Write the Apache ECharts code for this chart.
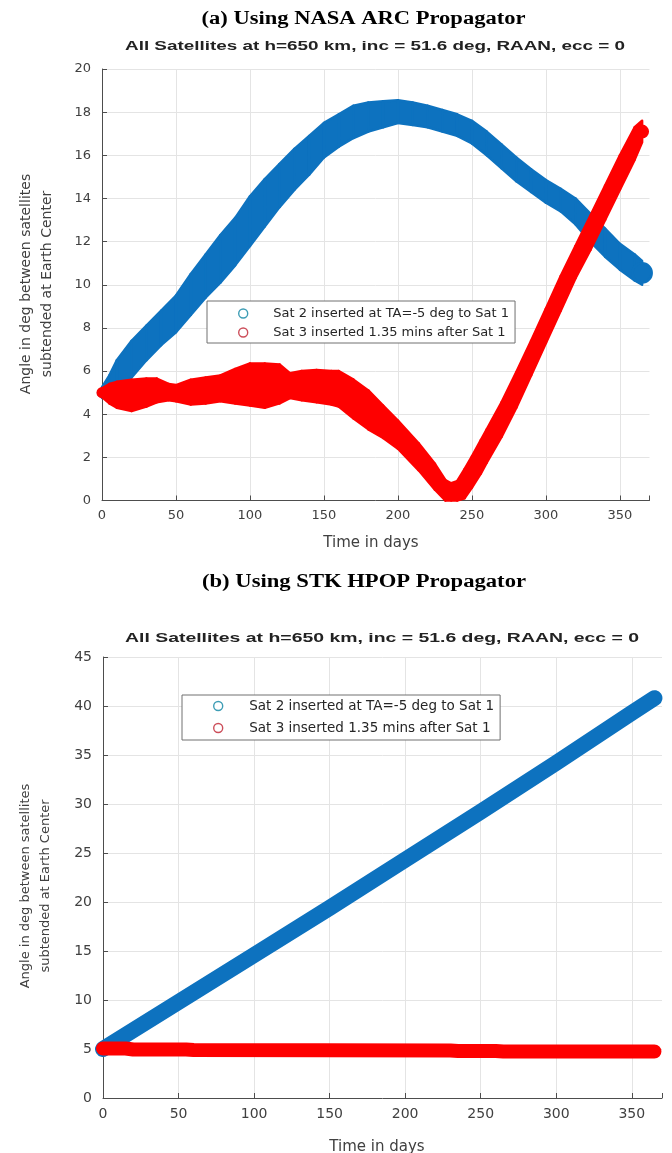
<!DOCTYPE html>
<html><head><meta charset="utf-8">
<script src="https://cdn.jsdelivr.net/npm/echarts@6/dist/echarts.min.js"></script>
<style>html,body{margin:0;padding:0;background:#fff}#c{width:672px;height:1153px}</style>
</head><body><div id="c"></div>
<script>
// ---------- data ----------
const legendNames = ['Sat 2 inserted at TA=-5 deg to Sat 1', 'Sat 3 inserted 1.35 mins after Sat 1'];
const xTicks = [0, 50, 100, 150, 200, 250, 300, 350];
const yTicksA = [0, 2, 4, 6, 8, 10, 12, 14, 16, 18, 20];
const yTicksB = [0, 5, 10, 15, 20, 25, 30, 35, 40, 45];

// (a) NASA ARC: Sat 2 band (lower / upper envelope of the scatter)
const daysA2 = [0, 5, 10, 20, 30, 40, 50, 60, 70, 80, 90, 100, 110, 120, 130, 140, 150, 160, 170, 180, 190, 200, 210, 220, 230, 240, 250, 260, 270, 280, 290, 300, 310, 320, 330, 340, 350, 360, 365];
const sat2LowA = [4.75, 4.9, 5.2, 5.7, 6.5, 7.2, 7.8, 8.6, 9.4, 10.1, 10.9, 11.8, 12.7, 13.6, 14.4, 15.1, 15.9, 16.4, 16.8, 17.1, 17.3, 17.5, 17.4, 17.3, 17.1, 16.9, 16.55, 16.0, 15.4, 14.8, 14.3, 13.8, 13.4, 12.8, 12.0, 11.3, 10.7, 10.2, 10.0];
const sat2HighA = [5.25, 5.8, 6.5, 7.4, 8.1, 8.8, 9.5, 10.5, 11.4, 12.3, 13.1, 14.1, 14.9, 15.6, 16.3, 16.9, 17.5, 17.9, 18.3, 18.45, 18.5, 18.55, 18.45, 18.3, 18.1, 17.9, 17.6, 17.1, 16.5, 15.9, 15.35, 14.85, 14.45, 14.0, 13.3, 12.6, 11.9, 11.4, 11.1];

// (a) NASA ARC: Sat 3 band
const daysA3 = [0, 5, 10, 20, 30, 37, 45, 50, 60, 70, 80, 90, 100, 110, 120, 127, 135, 145, 155, 160, 170, 180, 190, 200, 214, 225, 232, 236, 240, 245, 250, 256, 260, 270, 280, 290, 300, 310, 320, 330, 340, 350, 360, 365];
const sat3LowA = [4.8, 4.5, 4.3, 4.15, 4.35, 4.55, 4.65, 4.6, 4.45, 4.5, 4.6, 4.5, 4.4, 4.3, 4.5, 4.75, 4.65, 4.55, 4.45, 4.35, 3.8, 3.3, 2.9, 2.4, 1.4, 0.5, 0.0, 0.0, 0.0, 0.1, 0.6, 1.25, 1.75, 2.95, 4.3, 5.8, 7.3, 8.8, 10.3, 11.6, 13.0, 14.4, 15.8, 16.6];
const sat3HighA = [5.2, 5.4, 5.5, 5.6, 5.65, 5.65, 5.4, 5.35, 5.6, 5.7, 5.8, 6.1, 6.35, 6.35, 6.3, 5.9, 6.0, 6.05, 6.0, 6.0, 5.6, 5.1, 4.4, 3.7, 2.65, 1.7, 0.95, 0.8, 0.9, 1.45, 2.05, 2.8, 3.3, 4.55, 5.95, 7.4, 8.9, 10.4, 11.8, 13.2, 14.6, 16.0, 17.3, 17.6];

// (b) STK HPOP
const daysB2 = [0, 50, 100, 150, 200, 250, 300, 350, 365];
const sat2B = [5.0, 9.8, 14.6, 19.4, 24.3, 29.2, 34.2, 39.3, 40.8];
const daysB3 = [0, 15, 20, 55, 60, 230, 235, 260, 265, 365];
const sat3B = [5.05, 5.05, 4.95, 4.95, 4.9, 4.85, 4.8, 4.8, 4.75, 4.75];

// ---------- styling ----------
const BLUE = '#0d72bf', RED = '#fe0000';
const AXIS = '#4d4d4d', LABEL = '#404040', GRID = '#e4e4e4';
const SANS = '"DejaVu Sans"';

const mctx = document.createElement('canvas').getContext('2d');
function textW(t, font) { mctx.font = font; return mctx.measureText(t).width; }

// band between lower and upper envelope, drawn segment by segment through the axes
function bandSeries(name, days, low, high, color, gi) {
  const n = days.length;
  return { type: 'custom', name: name, xAxisIndex: gi, yAxisIndex: gi, silent: true, clip: false,
    data: days.map((d, i) => [d, low[i], high[i]]),
    encode: { x: 0, y: [1, 2] },
    itemStyle: { color: color },
    renderItem: function (params, api) {
      const k = params.dataIndexInside;
      const st = { fill: color, stroke: color, lineWidth: 2.5, lineJoin: 'round' };
      const children = [];
      const mid = function (j) {
        const a = api.coord([api.value(0, j), api.value(1, j)]);
        const b = api.coord([api.value(0, j), api.value(2, j)]);
        return [a[0], (a[1] + b[1]) / 2, Math.abs(a[1] - b[1]) / 2];
      };
      if (k === 0 || k === n - 1) {
        const m = mid(k), o = mid(k === 0 ? 1 : n - 2);
        const dx = Math.abs(o[0] - m[0]) || 1, dy = o[1] - m[1];
        const cosA = dx / Math.sqrt(dx * dx + dy * dy);
        children.push({ type: 'circle', shape: { cx: m[0], cy: m[1], r: Math.max(m[2] * cosA, 4) }, style: st });
      }
      if (k < n - 1) {
        const pts = [
          api.coord([api.value(0, k), api.value(1, k)]),
          api.coord([api.value(0, k + 1), api.value(1, k + 1)]),
          api.coord([api.value(0, k + 1), api.value(2, k + 1)]),
          api.coord([api.value(0, k), api.value(2, k)])
        ];
        children.push({ type: 'polygon', shape: { points: pts }, style: st });
      }
      return { type: 'group', children: children };
    } };
}
function thickLine(name, days, vals, color, width, gi) {
  return { type: 'line', name: name, xAxisIndex: gi, yAxisIndex: gi,
    data: days.map((d, i) => [d, vals[i]]), symbol: 'none', silent: true,
    itemStyle: { color: color },
    lineStyle: { color: color, width: width, cap: 'round', join: 'round' } };
}
function xAxis(gi, fs) {
  return { gridIndex: gi, type: 'value', min: 0, max: 370, interval: 50,
    axisLine: { show: true, onZero: false, lineStyle: { color: AXIS, width: 1 } },
    axisTick: { show: true, inside: true, length: 5, lineStyle: { color: AXIS } },
    axisLabel: { customValues: xTicks, color: LABEL, fontFamily: SANS, fontSize: fs, margin: 9 },
    splitLine: { show: true, showMaxLine: false, showMinLine: false, lineStyle: { color: GRID, width: 1 } } };
}
function yAxis(gi, max, step, ticks, fs) {
  return { gridIndex: gi, type: 'value', min: 0, max: max, interval: step,
    axisLine: { show: true, onZero: false, lineStyle: { color: AXIS, width: 1 } },
    axisTick: { show: true, inside: true, length: 5, lineStyle: { color: AXIS } },
    axisLabel: { customValues: ticks, color: LABEL, fontFamily: SANS, fontSize: fs, margin: 11 },
    splitLine: { show: true, showMinLine: false, lineStyle: { color: GRID, width: 1 } } };
}
function legend(left, top, gap, pad, iw, fs) {
  return { orient: 'vertical', left: left, top: top, itemGap: gap, itemWidth: iw, itemHeight: 9,
    padding: pad, backgroundColor: '#fff', borderColor: '#707070', borderWidth: 1, borderRadius: 0,
    selectedMode: false,
    textStyle: { fontFamily: SANS, fontSize: fs, color: '#262626' },
    data: [
      { name: legendNames[0], icon: 'circle', itemStyle: { color: '#fff', borderColor: '#3e9db5', borderWidth: 1.4 } },
      { name: legendNames[1], icon: 'circle', itemStyle: { color: '#fff', borderColor: '#cc4e5a', borderWidth: 1.4 } }
    ] };
}
function scaledText(txt, font, cx, cy, target, fill) {
  return { type: 'text', x: cx, y: cy, scaleX: target / textW(txt, font), silent: true,
    style: { text: txt, font: font, fill: fill, align: 'center', verticalAlign: 'middle' } };
}

const capFont = 'bold 18px "Liberation Serif"';
const ttlFont = 'bold 13px "Liberation Sans"';
const ttlText = 'All Satellites at h=650 km, inc = 51.6 deg, RAAN, ecc = 0';
const yName = 'Angle in deg between satellites\nsubtended at Earth Center';

const option = {
  animation: false,
  backgroundColor: '#fff',
  grid: [
    { left: 102, top: 69, width: 547.5, height: 431.5, outerBoundsMode: 'none', containLabel: false },
    { left: 103, top: 657, width: 559, height: 441, outerBoundsMode: 'none', containLabel: false }
  ],
  xAxis: [xAxis(0, 13), xAxis(1, 14)],
  yAxis: [yAxis(0, 20, 2, yTicksA, 13), yAxis(1, 45, 5, yTicksB, 14)],
  legend: [legend(207, 301, 6, [6, 6, 4, 31], 50, 13), legend(182, 695, 8, [4, 6, 5, 31], 52, 13.5)],
  series: [
    bandSeries(legendNames[0], daysA2, sat2LowA, sat2HighA, BLUE, 0),
    bandSeries(legendNames[1], daysA3, sat3LowA, sat3HighA, RED, 0),
    thickLine(legendNames[0], daysB2, sat2B, BLUE, 16, 1),
    thickLine(legendNames[1], daysB3, sat3B, RED, 14, 1)
  ],
  graphic: [
    scaledText('(a) Using NASA ARC Propagator', capFont, 363.5, 19.5, 324, '#000'),
    scaledText('(b) Using STK HPOP Propagator', capFont, 364, 582, 324, '#000'),
    scaledText(ttlText, ttlFont, 375, 46.5, 500, '#222'),
    scaledText(ttlText, ttlFont, 382, 638, 514, '#222'),
    { type: 'text', x: 36.5, y: 284, rotation: Math.PI / 2, silent: true,
      style: { text: yName, font: '14px ' + SANS, fill: LABEL, align: 'center', verticalAlign: 'middle', lineHeight: 21 } },
    { type: 'text', x: 36, y: 886, rotation: Math.PI / 2, silent: true,
      style: { text: yName, font: '13px ' + SANS, fill: LABEL, align: 'center', verticalAlign: 'middle', lineHeight: 20 } },
    { type: 'text', x: 371, y: 543, silent: true,
      style: { text: 'Time in days', font: '15px ' + SANS, fill: LABEL, align: 'center', verticalAlign: 'middle' } },
    { type: 'text', x: 377, y: 1147, silent: true,
      style: { text: 'Time in days', font: '15px ' + SANS, fill: LABEL, align: 'center', verticalAlign: 'middle' } }
  ]
};
const chart = echarts.init(document.getElementById('c'), null, { renderer: 'canvas' });
chart.setOption(option);
</script>
</body></html>
